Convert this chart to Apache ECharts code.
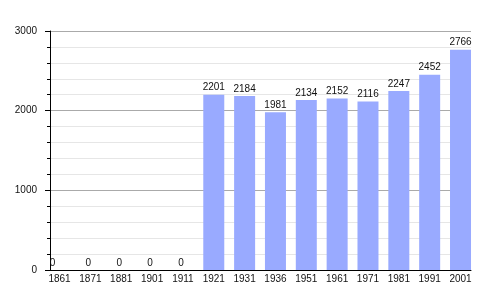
<!DOCTYPE html>
<html><head><meta charset="utf-8">
<script src="https://cdn.jsdelivr.net/npm/echarts@6/dist/echarts.min.js"></script>
<style>html,body{margin:0;padding:0;background:#fff}#c{width:500px;height:300px}</style>
</head><body><div id="c"></div>
<script>
const years = ['1861','1871','1881','1901','1911','1921','1931','1936','1951','1961','1971','1981','1991','2001'];
const population = [0,0,0,0,0,2201,2184,1981,2134,2152,2116,2247,2452,2766];
const yTicks = [0,1000,2000,3000];

const chart = echarts.init(document.getElementById('c'), null, {renderer:'canvas'});
const idx = years.map((_, i) => i);
const data = population.map((v, i) => {
  const d = {value: [i, v]};
  if (i === 0) d.label = {offset: [-7, 0]};
  else if (v === 0) d.label = {offset: [-2, 0]};
  return d;
});
chart.setOption({
  animation: false,
  backgroundColor: '#fff',
  grid: {left: 50, right: 29, top: 31, bottom: 30},
  xAxis: {
    type: 'value', min: -0.31, max: 13.34,
    axisLine: {show: true, onZero: false, lineStyle: {color: '#000', width: 1}},
    axisTick: {show: false},
    splitLine: {show: false},
    axisLabel: {
      customValues: idx, margin: 4, fontSize: 10, color: '#111',
      fontFamily: 'Liberation Sans, Arial, sans-serif',
      formatter: v => years[Math.round(v)] || ''
    }
  },
  yAxis: {
    type: 'value', min: yTicks[0], max: yTicks[yTicks.length-1], interval: 1000,
    axisLine: {show: true, onZero: false, lineStyle: {color: '#000', width: 1}},
    axisTick: {show: true, length: 5, lineStyle: {color: '#000'}},
    minorTick: {show: true, splitNumber: 5, length: 3, lineStyle: {color: '#000'}},
    splitLine: {show: true, lineStyle: {color: '#aaaaaa', width: 1}},
    minorSplitLine: {show: true, lineStyle: {color: '#e6e6e6', width: 1}},
    axisLabel: {margin: 13, fontSize: 10, color: '#111', fontFamily: 'Liberation Sans, Arial, sans-serif',
      formatter: v => String(v)}
  },
  series: [{
    type: 'bar',
    barWidth: 21,
    data: data,
    itemStyle: {color: '#99aaff'},
    label: {show: true, position: 'top', distance: 2, fontSize: 10, color: '#111',
      fontFamily: 'Liberation Sans, Arial, sans-serif'}
  }]
});
</script></body></html>
